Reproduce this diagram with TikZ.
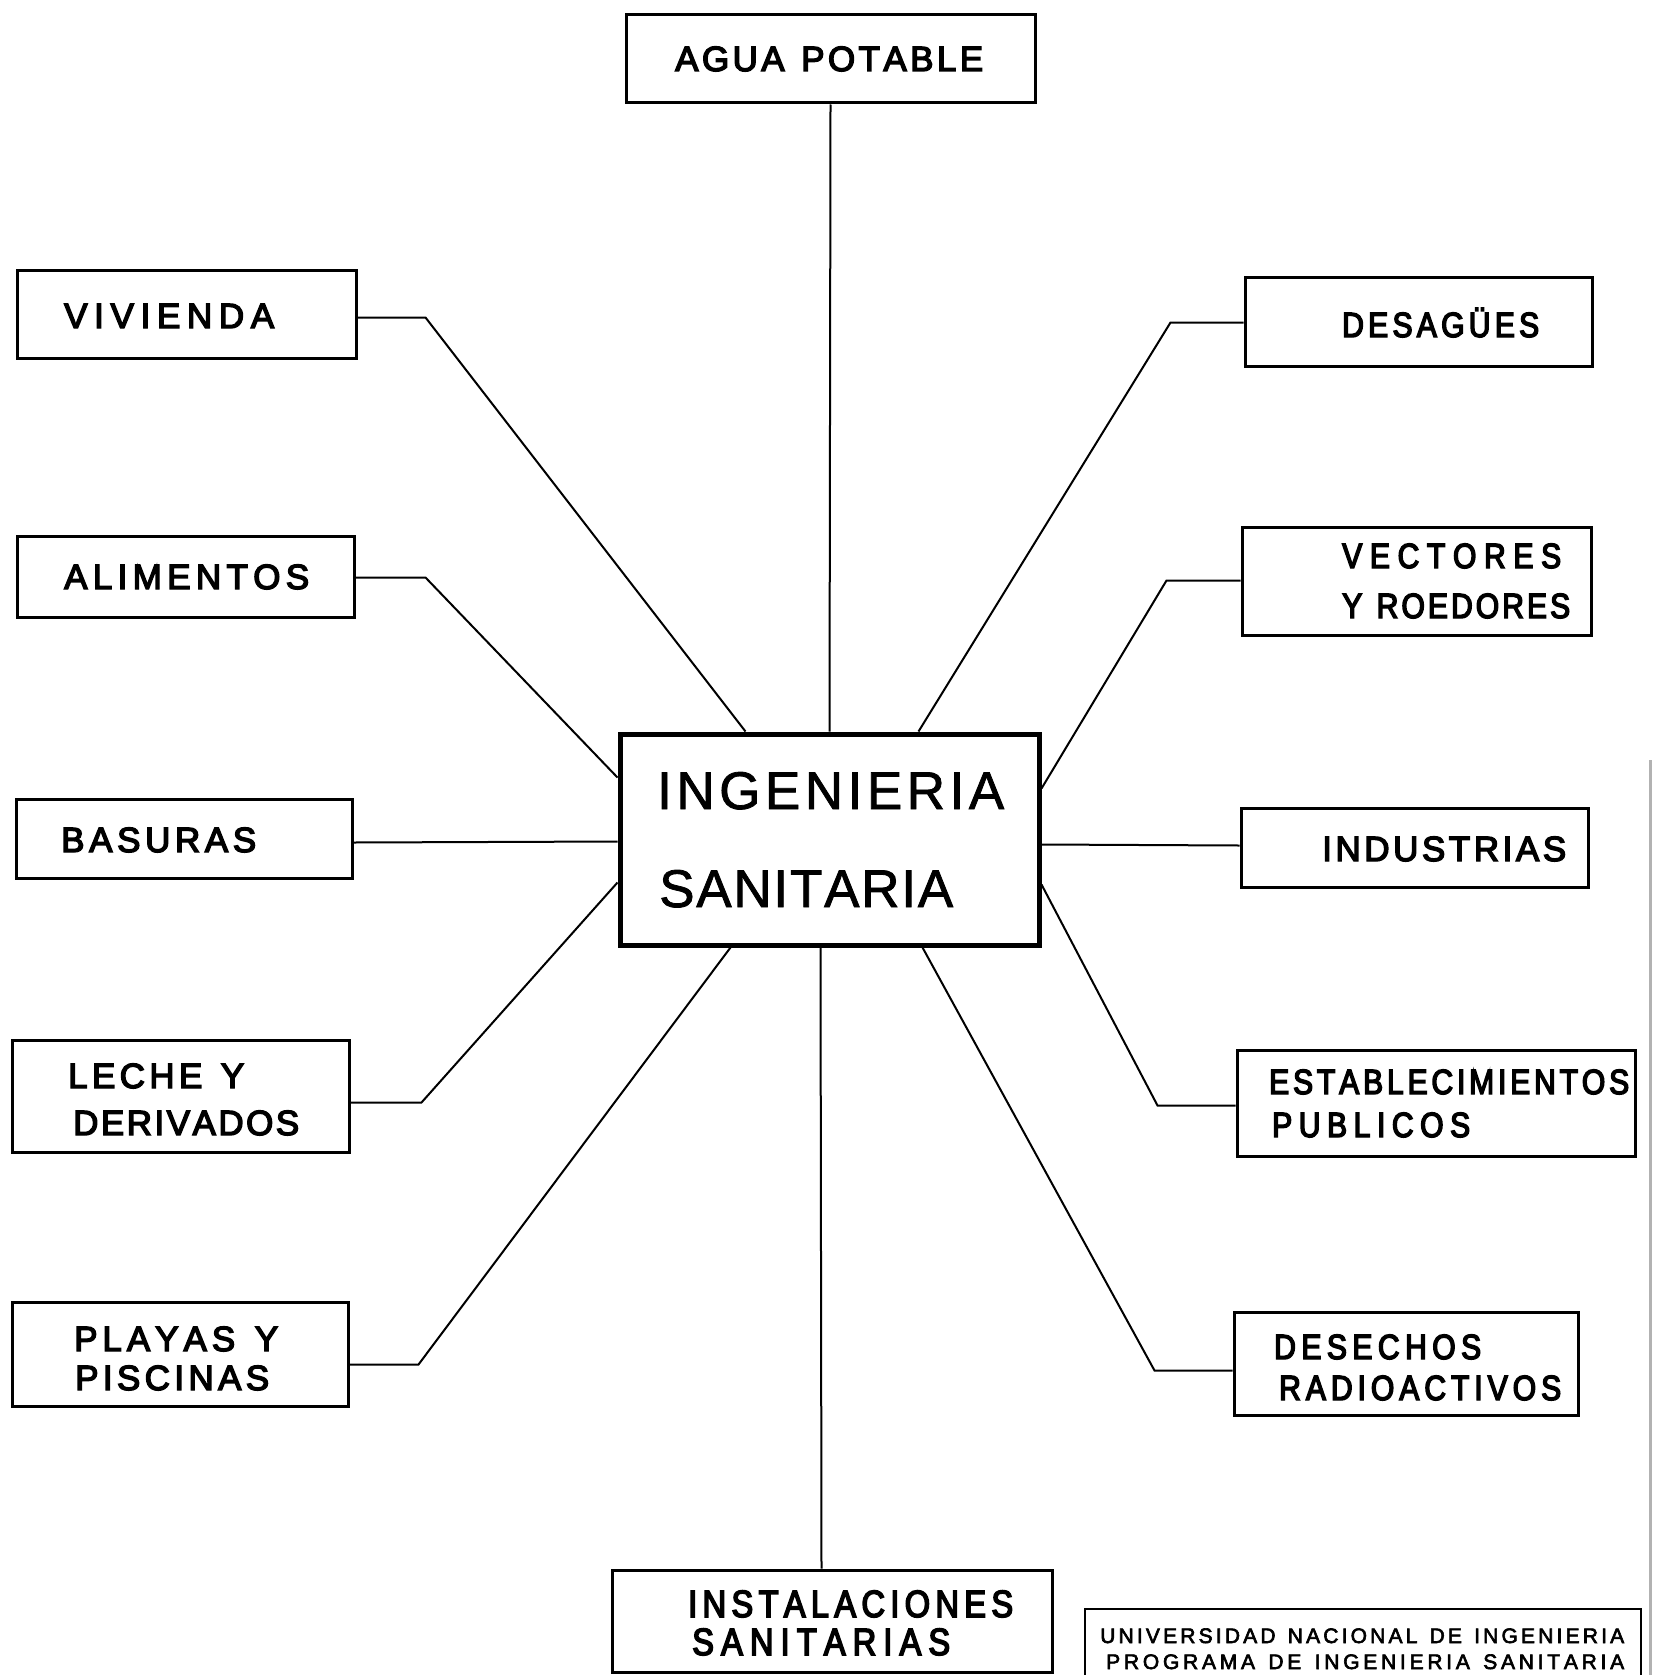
\documentclass[tikz,border=0pt]{standalone}
\usepackage{fontspec}
\setmainfont{Liberation Sans}
\newfontfamily\labfont{Liberation Sans}[FakeBold=4]
\newfontfamily\narfont{Liberation Sans}[FakeBold=4,FakeStretch=0.86]
\newfontfamily\cenfont{Liberation Sans}[FakeBold=1.5]
\newfontfamily\unifont{Liberation Sans}[FakeBold=3]
\usetikzlibrary{calc}
\ExplSyntaxOn
\NewDocumentCommand\spr{mm}{\makebox[#1][s]{\str_map_inline:nn {#2}{##1\hfil}\unskip}}
\ExplSyntaxOff
\newcommand\mybox[6][box]{%
  \node[#1, minimum width={(#5-#3)*1pt}, minimum height={(#6-#4)*1pt}] (#2) at ({(#3+#5)/2},{(#4+#6)/2}) {};}
\tikzset{
  box/.style={draw, line width=3pt, rectangle, inner sep=0pt},
  cbox/.style={draw, line width=5pt, rectangle, inner sep=0pt},
  ubox/.style={draw, line width=2.5pt, rectangle, inner sep=0pt},
  conn/.style={line width=2pt},
  lab/.style={anchor=base west, inner sep=0pt, font=\labfont\fontsize{35}{35}\selectfont},
  nlab/.style={anchor=base west, inner sep=0pt, font=\narfont\fontsize{35}{35}\selectfont},
  clab/.style={anchor=base west, inner sep=0pt, font=\cenfont\fontsize{53}{53}\selectfont},
  ilab/.style={anchor=base west, inner sep=0pt, font=\narfont\fontsize{38}{38}\selectfont},
  ulab/.style={anchor=base west, inner sep=0pt, font=\unifont\fontsize{21}{21}\selectfont},
}
\begin{document}
\begin{tikzpicture}[x=1pt,y=-1pt]
\useasboundingbox (0,0) rectangle (1655,1675);
% boxes
\mybox{agua}{626}{15}{1035}{103}
\mybox{viv}{17}{270}{356}{358}
\mybox{ali}{17}{536}{354}{617}
\mybox{bas}{16}{799}{352}{878}
\mybox{lec}{12}{1040}{349}{1152}
\mybox{pla}{12}{1302}{348}{1406}
\mybox{des}{1245}{277}{1592}{366}
\mybox{vec}{1242}{527}{1591}{635}
\mybox{ind}{1241}{808}{1588}{887}
\mybox{est}{1237}{1050}{1635}{1156}
\mybox{dsr}{1234}{1312}{1578}{1415}
\mybox{ins}{612}{1570}{1052}{1672}
\mybox[cbox]{ing}{620}{734}{1039}{945}
\mybox[ubox]{uni}{1085}{1609}{1641}{1700}
% scan line at right edge
\draw[line width=3pt, gray!60] (1650,760) -- (1650,1675);
% texts
\node[lab] (tagua) at (675,71) {\spr{308pt}{AGUA POTABLE}};
\node[lab] (tviv) at (64,328) {\spr{210pt}{VIVIENDA}};
\node[lab] (tali) at (64,589) {\spr{245pt}{ALIMENTOS}};
\node[lab] (tbas) at (61,852) {\spr{195pt}{BASURAS}};
\node[lab] (tlec1) at (68,1088) {\spr{176pt}{LECHE Y}};
\node[lab] (tlec2) at (73,1135) {\spr{226pt}{DERIVADOS}};
\node[lab] (tpla1) at (74,1351) {\spr{204pt}{PLAYAS Y}};
\node[lab] (tpla2) at (75,1390) {\spr{194pt}{PISCINAS}};
\node[nlab] (tdes) at (1342,337) {\spr{197pt}{DESAGÜES}};
\node[nlab] (tvec1) at (1342,568) {\spr{219pt}{VECTORES}};
\node[nlab] (tvec2) at (1342,618) {\spr{228pt}{Y ROEDORES}};
\node[lab] (tind) at (1322,861) {\spr{244pt}{INDUSTRIAS}};
\node[nlab] (test1) at (1269,1094) {\spr{360pt}{ESTABLECIMIENTOS}};
\node[nlab] (test2) at (1272,1137) {\spr{198pt}{PUBLICOS}};
\node[nlab] (tdsr1) at (1274,1359) {\spr{207pt}{DESECHOS}};
\node[nlab] (tdsr2) at (1279,1400) {\spr{282pt}{RADIOACTIVOS}};
\node[clab] (ting1) at (657,809) {\spr{347pt}{INGENIERIA}};
\node[clab] (ting2) at (659,907) {\spr{294pt}{SANITARIA}};
\node[ilab] (tins1) at (688,1617) {\spr{325pt}{INSTALACIONES}};
\node[ilab] (tins2) at (692,1655) {\spr{258pt}{SANITARIAS}};
\node[ulab] (tuni1) at (1100,1643) {\spr{524pt}{UNIVERSIDAD NACIONAL DE INGENIERIA}};
\node[ulab] (tuni2) at (1106,1669) {\spr{518pt}{PROGRAMA DE INGENIERIA SANITARIA}};
% connectors
\draw[conn] (agua.south) -- (ing.north);
\draw[conn] ($(viv.north east)+(0,49)$) -- ++(68,0) -- ($(ing.north west)+(128,0)$);
\draw[conn] ($(ali.north east)+(0,43)$) -- ++(70,0) -- ($(ing.north west)+(0,46)$);
\draw[conn] ($(bas.north east)+(0,45)$) -- ($(ing.north west)+(0,110)$);
\draw[conn] ($(lec.north east)+(0,64)$) -- ++(71,0) -- ($(ing.north west)+(0,151)$);
\draw[conn] ($(pla.north east)+(0,64)$) -- ++(69,0) -- ($(ing.south west)+(113,0)$);
\draw[conn] ($(des.north west)+(0,47)$) -- ++(-73,0) -- ($(ing.north west)+(301,0)$);
\draw[conn] ($(vec.north west)+(0,55)$) -- ++(-74,0) -- ($(ing.north east)+(0,57)$);
\draw[conn] ($(ing.north east)+(0,113)$) -- ($(ind.north west)+(0,39)$);
\draw[conn] ($(ing.north east)+(0,153)$) -- ($(est.north west)+(-78,57)$) -- ($(est.north west)+(0,57)$);
\draw[conn] ($(ing.south west)+(305,0)$) -- ($(dsr.north west)+(-78,60)$) -- ($(dsr.north west)+(0,60)$);
\draw[conn] ($(ing.south west)+(203,0)$) -- ($(ins.north west)+(211,0)$);
\end{tikzpicture}
\end{document}
